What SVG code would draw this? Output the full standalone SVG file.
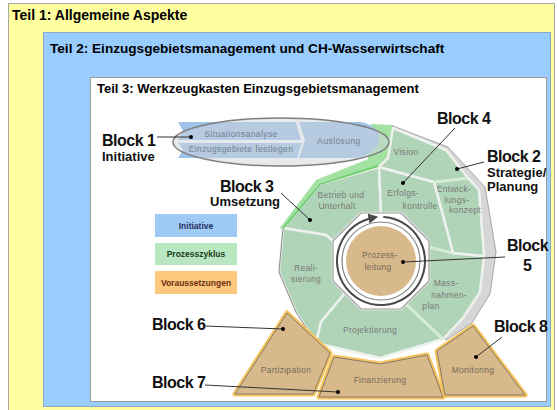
<svg xmlns="http://www.w3.org/2000/svg" width="557" height="410" viewBox="0 0 557 410">
<defs>
<style>
.hdr{font-family:"Liberation Sans",Arial,sans-serif;font-weight:bold;font-size:13px;fill:#000}
.blk{font-family:"Liberation Sans",Arial,sans-serif;font-weight:bold;font-size:16px;fill:#111;letter-spacing:-0.5px}
.sub{font-family:"Liberation Sans",Arial,sans-serif;font-weight:bold;font-size:13px;fill:#111}
.seg{fill:#b0d4b7;stroke:#eef2ee;stroke-width:2.5;stroke-linejoin:round}
.lbl{font-family:"Liberation Sans",Arial,sans-serif;font-size:8.5px;fill:#7a7a7a;text-anchor:middle;letter-spacing:0.3px}
.tlb{font-family:"Liberation Sans",Arial,sans-serif;font-size:8.5px;fill:#75695a;text-anchor:middle;letter-spacing:0.3px}
.ilb{font-family:"Liberation Sans",Arial,sans-serif;font-size:8.5px;fill:#6f7f90;text-anchor:middle;letter-spacing:0.4px}
.tan{fill:#d8b98c;stroke:#857a68;stroke-width:1;stroke-linejoin:round}
.glow{fill:none;stroke:#f6c25e;stroke-width:5;stroke-linejoin:round}
.leg{font-family:"Liberation Sans",Arial,sans-serif;font-weight:bold;font-size:8.5px;text-anchor:middle}
.con{stroke:#333;stroke-width:1;fill:none}
.dot{fill:#000}
.band{fill:#9dc3e8}
</style>
<marker id="ah" viewBox="0 0 10 10" refX="5" refY="5" markerWidth="5" markerHeight="5" orient="auto">
<path d="M0,0 L10,5 L0,10 z" fill="#4a4a4a"/>
</marker>
</defs>

<g id="frames">
<rect x="8.5" y="3.5" width="546" height="410" fill="#ffff9f" stroke="#a8a8a8"/>
<rect x="43.5" y="32.5" width="507" height="374" fill="#99ccff" stroke="#8aa8c8"/>
<rect x="90.5" y="77.5" width="456" height="324" fill="#ffffff" stroke="#9a9a9a"/>
<text class="hdr" x="12" y="20" style="font-size:14px">Teil 1: Allgemeine Aspekte</text>
<text class="hdr" x="50" y="53" style="font-size:13.6px">Teil 2: Einzugsgebietsmanagement und CH-Wasserwirtschaft</text>
<text class="hdr" x="97" y="93">Teil 3: Werkzeugkasten Einzugsgebietsmanagement</text>
</g>

<g id="legend">
<rect x="155" y="214" width="82" height="23" fill="#9fcaf3"/>
<text class="leg" x="196" y="228.5" fill="#1f2f5f">Initiative</text>
<rect x="155" y="243" width="82" height="22" fill="#b8e7c1"/>
<text class="leg" x="196" y="257" fill="#1a4020">Prozesszyklus</text>
<rect x="155" y="271" width="82" height="23" fill="#fcc87d"/>
<text class="leg" x="196" y="285.5" fill="#6b2e0e">Voraussetzungen</text>
</g>

<g id="cycle">
<polygon points="279,229 316,180 368,159 371,124 394,125 389,158 379,166 320,183 283,228" fill="#a4e2a4"/>
<polygon points="393,126 448,147 485,187 496,252 490,294 472,323 446,340 420,300 420,200 390,160" fill="#d6d6d6" stroke="#a8a8a8" stroke-width="1"/>
<g id="betrieb"><polygon class="seg" points="283,228 320,184 379,167 381,213 361,213 333,241 326,235"/>
<text class="lbl" x="341" y="198">Betrieb und</text><text class="lbl" x="337" y="209">Unterhalt</text></g>
<g id="realisierung"><polygon class="seg" points="283,228 326,235 333,241 333,281 345,293 321,322 316,343 296,312 279,272"/>
<text class="lbl" x="306" y="271">Reali-</text><text class="lbl" x="306" y="282">sierung</text></g>
<g id="projektierung"><polygon class="seg" points="345,293 361,309 401,309 406,304 443,339 380,358 316,343 321,322"/>
<text class="lbl" x="370" y="333">Projektierung</text></g>
<g id="massnahmenplan"><polygon class="seg" points="429,247 453,253 484,256 480,292 463,318 443,339 406,304 429,281"/>
<text class="lbl" x="446" y="286">Mass-</text><text class="lbl" x="449" y="298">nahmen-</text><text class="lbl" x="431" y="309">plan</text></g>
<g id="entwicklungskonzept"><polygon class="seg" points="434,182 468,178 479,190 484,256 453,253"/>
<text class="lbl" x="454" y="192">Entwick-</text><text class="lbl" x="457" y="203">lungs-</text><text class="lbl" x="465" y="213">konzept</text></g>
<g id="erfolgskontrolle"><polygon class="seg" points="379,167 434,182 453,253 429,247 429,241 401,213 381,213" stroke="#5f9f5f" stroke-width="1.2"/>
<text class="lbl" x="403" y="196">Erfolgs-</text><text class="lbl" x="420" y="209">kontrolle</text></g>
<g id="vision"><polygon class="seg" points="393,128 446,150 468,178 434,182 379,167 388,158" stroke="#5f9f5f" stroke-width="1.2"/>
<text class="lbl" x="406" y="155">Vision</text></g>
<polyline points="378,166 320,184 283,228" fill="none" stroke="#6fd06f" stroke-width="2"/>
<polyline points="283,228 279,272 296,312 316,343" fill="none" stroke="#8a8a8a" stroke-width="1"/>
<polyline points="434,182 468,178" fill="none" stroke="#c8ecc8" stroke-width="1.5"/>
<polyline points="429,247 453,253" fill="none" stroke="#c8ecc8" stroke-width="1.5"/>
<polyline points="406,304 443,339" fill="none" stroke="#c8ecc8" stroke-width="1.5"/>
<polygon points="361,213 401,213 429,241 429,281 401,309 361,309 333,281 333,241" fill="#ffffff" stroke="#9a9a9a" stroke-width="1.2"/>
<circle cx="381" cy="261" r="39" fill="none" stroke="#888" stroke-width="1.2"/>
<path d="M383.3,217.1 A44,44 0 1 1 373.4,217.7" fill="none" stroke="#4a4a4a" stroke-width="2" marker-end="url(#ah)"/>
</g>

<g id="prozessleitung">
<circle cx="381" cy="261" r="35" fill="#d8b98c"/>
<text class="tlb" x="380" y="258">Prozess-</text>
<text class="tlb" x="378" y="270">leitung</text>
</g>

<g id="initiative">
<polygon class="band" points="178,122 296,122 301,140 178,140 183,131"/>
<polygon class="band" points="178,143 302,143 297,158 178,158 183,150"/>
<path class="band" d="M299,122 H360 C375,124 382,134 378,144 C374,153 365,157 355,158 H299 L305,140 Z"/>
<ellipse cx="281" cy="142" rx="108" ry="24" fill="#d0d4da" fill-opacity="0.5" stroke="#7f7f7f" stroke-width="1.5"/>
<text class="ilb" x="241" y="137">Situationsanalyse</text>
<text class="ilb" x="241" y="152">Einzugsgebiete festlegen</text>
<text class="ilb" x="339" y="144">Auslösung</text>
</g>

<g id="partizipation">
<polygon class="glow" points="287,313 330,353 313,394 235,394"/>
<polygon class="tan" points="287,313 330,353 313,394 235,394"/>
<text class="tlb" x="286" y="373">Partizipation</text>
</g>
<g id="finanzierung">
<polygon class="glow" points="334,357 380,364 427,355 443,397 319,397"/>
<polygon class="tan" points="334,357 380,364 427,355 443,397 319,397"/>
<text class="tlb" x="380" y="383">Finanzierung</text>
</g>
<g id="monitoring">
<polygon class="glow" points="437,351 473,326 525,395 445,395"/>
<polygon class="tan" points="437,351 473,326 525,395 445,395"/>
<text class="tlb" x="473" y="373">Monitoring</text>
</g>

<g id="labels">
<text class="blk" x="102" y="146">Block 1</text>
<text class="sub" x="102" y="161">Initiative</text>
<text class="blk" x="220" y="192">Block 3</text>
<text class="sub" x="210" y="206">Umsetzung</text>
<text class="blk" x="437" y="124">Block 4</text>
<text class="blk" x="487" y="162">Block 2</text>
<text class="sub" x="487" y="177">Strategie/</text>
<text class="sub" x="487" y="191">Planung</text>
<text class="blk" x="507" y="251">Block</text>
<text class="blk" x="523" y="271">5</text>
<text class="blk" x="152" y="330">Block 6</text>
<text class="blk" x="152" y="388">Block 7</text>
<text class="blk" x="494" y="332">Block 8</text>
</g>

<g id="connectors">
<line class="con" x1="157" y1="137" x2="191" y2="137"/><circle class="dot" cx="191" cy="137" r="2"/>
<line class="con" x1="281" y1="193" x2="310" y2="220"/><circle class="dot" cx="310" cy="220" r="2"/>
<line class="con" x1="455" y1="128" x2="403" y2="183"/><circle class="dot" cx="403" cy="183" r="2"/>
<line class="con" x1="484" y1="162" x2="457" y2="169"/><circle class="dot" cx="457" cy="169" r="2"/>
<line class="con" x1="505" y1="257" x2="403" y2="262"/><circle class="dot" cx="403" cy="262" r="2"/>
<line class="con" x1="205" y1="326" x2="283" y2="329"/><circle class="dot" cx="283" cy="329" r="2"/>
<line class="con" x1="205" y1="385" x2="338" y2="392"/><circle class="dot" cx="338" cy="392" r="2"/>
<line class="con" x1="502" y1="337" x2="476" y2="357"/><circle class="dot" cx="476" cy="357" r="2"/>
</g>
</svg>
